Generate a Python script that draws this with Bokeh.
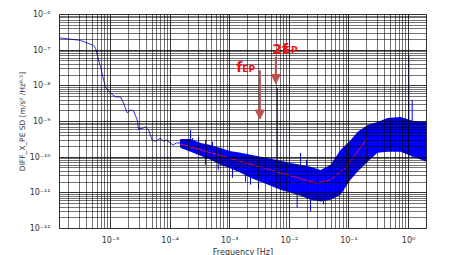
from bokeh.plotting import figure
from bokeh.models import Range1d, FixedTicker, CustomJSTickFormatter, Arrow, NormalHead, Label
from bokeh.embed import file_html
from bokeh.resources import INLINE

# --- data ---
# smooth low-frequency part of the spectrum
low_f = [1.39e-6, 3.14e-6, 5.19e-6, 5.6e-6, 6.8e-6, 8.2e-6, 1.0e-5, 1.21e-5, 1.47e-5, 1.65e-5,
         1.9e-5, 2.17e-5, 2.43e-5, 2.8e-5, 2.95e-5, 3.4e-5, 3.87e-5, 4.34e-5, 5.0e-5, 5.7e-5,
         6.9e-5, 7.7e-5, 8.8e-5, 1.0e-4, 1.12e-4, 1.27e-4, 1.45e-4]
low_v = [2.21e-7, 1.88e-7, 1.36e-7, 1.12e-7, 3.3e-8, 9.2e-9, 6.2e-9, 4.9e-9, 4.9e-9, 3.3e-9,
         1.73e-9, 2.1e-9, 2.0e-9, 1.1e-9, 6.2e-10, 6.4e-10, 7.0e-10, 5.8e-10, 3.0e-10, 2.8e-10,
         3.4e-10, 2.8e-10, 3.0e-10, 2.5e-10, 2.2e-10, 2.5e-10, 2.5e-10]

# noisy band (upper / lower envelope of the dense core)
band_f = [1.45e-4, 1.49e-4, 2.2e-4, 3.24e-4, 4.76e-4, 7.0e-4, 9.9e-4, 1.52e-3, 2.23e-3, 3.29e-3,
          4.84e-3, 7.1e-3, 1.05e-2, 1.54e-2, 2.27e-2, 3.34e-2, 4.91e-2, 7.2e-2, 0.106, 0.139,
          0.205, 0.302, 0.444, 0.734, 1.21, 2.0]
band_hi = [2.6e-10, 3.24e-10, 3.24e-10, 2.51e-10, 2.21e-10, 1.82e-10, 1.5e-10, 1.32e-10, 1.16e-10, 1.02e-10,
           9.0e-11, 7.9e-11, 6.9e-11, 6.1e-11, 5.4e-11, 4.4e-11, 6.1e-11, 1.6e-10, 3.0e-10, 5.1e-10,
           8.0e-10, 9.7e-10, 1.25e-9, 1.33e-9, 1.03e-9, 9.7e-10]
band_lo = [2.3e-10, 1.82e-10, 1.41e-10, 1.09e-10, 8.4e-11, 6.1e-11, 5.0e-11, 3.65e-11, 2.65e-11, 2.05e-11,
           1.58e-11, 1.23e-11, 1.01e-11, 8.3e-12, 6.4e-12, 5.7e-12, 6.4e-12, 8.9e-12, 2.33e-11, 3.9e-11,
           7.4e-11, 1.32e-10, 1.41e-10, 1.41e-10, 1.02e-10, 7.4e-11]

# isolated spikes
spike_f = [6.27e-3, 1.01, 1.15, 1.54e-2, 1.94e-2, 1.35e-2, 2.27e-2, 3.73e-2, 2.2e-4, 3.9e-4,
           6.4e-4, 0.19, 2.23e-3, 2.38e-4, 3.0e-4, 3.93e-4, 5.14e-4, 1.11e-3, 1.84e-3, 3.04e-3]
spike_lo = [6.9e-11, 1.0e-10, 1.0e-10, 3.0e-11, 2.0e-11, 3.85e-12, 3.0e-12, 4.7e-12, 2.0e-10, 6.1e-11,
            4.4e-11, 2.0e-10, 1.7e-11, 1.5e-10, 1.3e-10, 1.2e-10, 1.0e-10, 2.65e-11, 2.05e-11, 1.23e-11]
spike_hi = [8.6e-9, 7.2e-8, 4.0e-9, 1.32e-10, 8.4e-11, 2.0e-11, 2.0e-11, 2.0e-11, 5.8e-10, 2.0e-10,
            1.5e-10, 5.8e-10, 6.0e-11, 3.46e-10, 3.7e-10, 3.04e-10, 2.68e-10, 8.0e-11, 6.0e-11, 5.0e-11]

# fitted model (red line)
fit_f = [1.45e-4, 2.86e-2, 4.9e-2, 8.8e-2, 0.203]
fit_v = [2.36e-10, 1.86e-11, 2.33e-11, 5.0e-11, 3.4e-10]

x_major = [1e-5, 1e-4, 1e-3, 1e-2, 1e-1, 1e0]
y_major = [1e-12, 1e-11, 1e-10, 1e-9, 1e-8, 1e-7, 1e-6]

# annotations: f_EP and 2f_EP arrows (x, y_start, y_end)
fep_arrow = (3.2e-3, 2.73e-8, 1.17e-9)
f2ep_arrow = (5.93e-3, 6.45e-8, 1.16e-8)

X_MIN, X_MAX = 1.39e-6, 2.0
x_minor = [k * 10.0 ** n for n in range(-6, 1) for k in range(1, 10)
           if X_MIN <= k * 10.0 ** n <= X_MAX]
y_minor = [k * 10.0 ** n for n in range(-12, -6) for k in range(1, 10)]

p = figure(x_axis_type="log", y_axis_type="log",
           x_range=Range1d(X_MIN, X_MAX), y_range=Range1d(1e-12, 1e-6),
           frame_width=367, frame_height=214,
           min_border_left=59, min_border_top=14, min_border_right=12, min_border_bottom=0,
           output_backend="svg", toolbar_location=None,
           background_fill_color="white", border_fill_color="white")

p.outline_line_color = "#333333"

fmt = CustomJSTickFormatter(code="""
const sup = {'-':'\u207b','0':'\u2070','1':'\u00b9','2':'\u00b2','3':'\u00b3','4':'\u2074','5':'\u2075','6':'\u2076','7':'\u2077','8':'\u2078','9':'\u2079'};
const e = Math.round(Math.log10(tick));
return '10' + String(e).split('').map(c => sup[c]).join('');
""")

p.xaxis.ticker = FixedTicker(ticks=x_major, minor_ticks=x_minor)
p.yaxis.ticker = FixedTicker(ticks=y_major, minor_ticks=y_minor)
for ax in (p.xaxis, p.yaxis):
    ax.formatter = fmt
    ax.major_tick_line_color = None
    ax.minor_tick_line_color = None
    ax.axis_line_color = "#333333"
    ax.major_label_text_font = "DejaVu Sans"
    ax.major_label_text_font_size = "8px"
    ax.major_label_text_color = "#333333"
    ax.axis_label_text_font = "DejaVu Sans"
    ax.axis_label_text_font_style = "normal"
    ax.axis_label_text_color = "#333333"

p.xaxis.major_label_standoff = 1
p.yaxis.major_label_standoff = 3
p.xaxis.axis_label = "Frequency [Hz]"
p.xaxis.axis_label_text_font_size = "8px"
p.xaxis.axis_label_standoff = 0
p.yaxis.axis_label = "DIFF_X_PE SD [m/s\u00b2 /Hz\u2070\u00b7\u2075]"
p.yaxis.axis_label_text_font_size = "7.5px"
p.yaxis.axis_label_standoff = 0

for g in (p.xgrid, p.ygrid):
    g.grid_line_color = "#000000"
    g.grid_line_alpha = 0.55
    g.minor_grid_line_color = "#000000"
    g.minor_grid_line_alpha = 0.55
    g.level = "guide"

p.line(low_f, low_v, line_color="#3030e8", line_width=1)
p.varea(x=band_f, y1=band_lo, y2=band_hi, fill_color="#0000ff")
p.segment(x0=spike_f, y0=spike_lo, x1=spike_f, y1=spike_hi, line_color="#0000ff", line_width=1)
p.line(fit_f, fit_v, line_color="#dd1144", line_width=1)

acol = "#c0504d"
for (ax_, y0, y1) in (fep_arrow, f2ep_arrow):
    p.add_layout(Arrow(end=NormalHead(size=9, fill_color=acol, line_color=acol),
                       x_start=ax_, y_start=y0, x_end=ax_, y_end=y1,
                       line_color=acol, line_width=2))

tcol = "#ee1111"
p.add_layout(Label(x=1.28e-3, y=3.38e-8, text="f", text_color=tcol, text_font="DejaVu Sans",
                   text_font_size="14px", text_font_style="bold", text_baseline="alphabetic"))
p.add_layout(Label(x=1.62e-3, y=2.92e-8, text="EP", text_color=tcol, text_font="DejaVu Sans",
                   text_font_size="9px", text_font_style="bold", text_baseline="alphabetic"))
p.add_layout(Label(x=5.16e-3, y=1.1e-7, text="2f", text_color=tcol, text_font="DejaVu Sans",
                   text_font_size="14px", text_font_style="bold", text_baseline="alphabetic"))
p.add_layout(Label(x=8.4e-3, y=9.9e-8, text="EP", text_color=tcol, text_font="DejaVu Sans",
                   text_font_size="9px", text_font_style="bold", text_baseline="alphabetic"))

open("out.html", "w").write(file_html(p, INLINE))
